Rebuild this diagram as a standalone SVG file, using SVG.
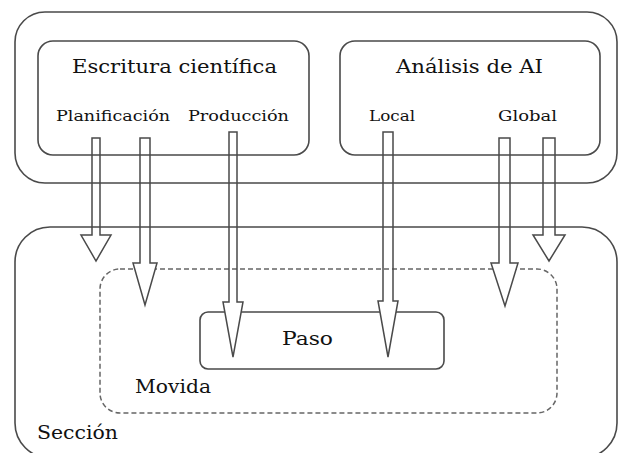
<svg xmlns="http://www.w3.org/2000/svg" width="618" height="453" viewBox="0 0 618 453">
<style>
.box{fill:none;stroke:#4a4a4a;stroke-width:1.6}
.dash{fill:none;stroke:#666;stroke-width:1.5;stroke-dasharray:5 3}
.t{font-family:"DejaVu Serif","Liberation Serif",serif;fill:#111}
.big{font-size:19px}
.small{font-size:15px}
.arr{fill:none;stroke:#4a4a4a;stroke-width:1.5;stroke-linejoin:miter}
.head{fill:#fff;stroke:none}
</style>
<rect width="618" height="453" fill="#fff"/>
<g id="seccion">
<rect class="box" x="15" y="227" width="602" height="231" rx="35"/>
<text class="t big" x="37" y="439" textLength="81" lengthAdjust="spacingAndGlyphs">Sección</text>
</g>
<g id="movida">
<rect class="dash" x="100" y="269" width="457" height="144" rx="20"/>
<text class="t big" x="135" y="393" textLength="76" lengthAdjust="spacingAndGlyphs">Movida</text>
</g>
<g id="paso">
<rect class="box" x="200" y="312" width="244" height="57" rx="8"/>
<text class="t big" x="282" y="345" textLength="51" lengthAdjust="spacingAndGlyphs">Paso</text>
</g>
<g id="superior">
<rect class="box" x="15" y="12" width="602" height="171" rx="30"/>
</g>
<g id="escritura">
<rect class="box" x="38" y="41" width="271" height="114" rx="15"/>
<text class="t big" x="72" y="73" textLength="205" lengthAdjust="spacingAndGlyphs">Escritura científica</text>
<text class="t small" x="56" y="121" textLength="114" lengthAdjust="spacingAndGlyphs">Planificación</text>
<text class="t small" x="188" y="121" textLength="101" lengthAdjust="spacingAndGlyphs">Producción</text>
</g>
<g id="analisis">
<rect class="box" x="340" y="41" width="260" height="114" rx="15"/>
<text class="t big" x="396" y="73" textLength="147" lengthAdjust="spacingAndGlyphs">Análisis de AI</text>
<text class="t small" x="369" y="121" textLength="46" lengthAdjust="spacingAndGlyphs">Local</text>
<text class="t small" x="498" y="121" textLength="59" lengthAdjust="spacingAndGlyphs">Global</text>
</g>
<g id="connectors">
<polygon class="head" points="81,235 111,235 96,261"/>
<polygon class="arr" points="92,138 100,138 100,235 111,235 96,261 81,235 92,235"/>
<polygon class="head" points="133,263 157,263 145,305"/>
<polygon class="arr" points="140,138 150,138 150,263 157,263 145,305 133,263 140,263"/>
<polygon class="head" points="223,302 243,302 233,357"/>
<polygon class="arr" points="229,132 237,132 237,302 243,302 233,357 223,302 229,302"/>
<polygon class="head" points="378,301 398,301 388,357"/>
<polygon class="arr" points="383,132 393,132 393,301 398,301 388,357 378,301 383,301"/>
<polygon class="head" points="491,263 518,263 505,306"/>
<polygon class="arr" points="499,138 510,138 510,263 518,263 505,306 491,263 499,263"/>
<polygon class="head" points="533,235 565,235 549,261"/>
<polygon class="arr" points="543,138 555,138 555,235 565,235 549,261 533,235 543,235"/>
</g>
</svg>
